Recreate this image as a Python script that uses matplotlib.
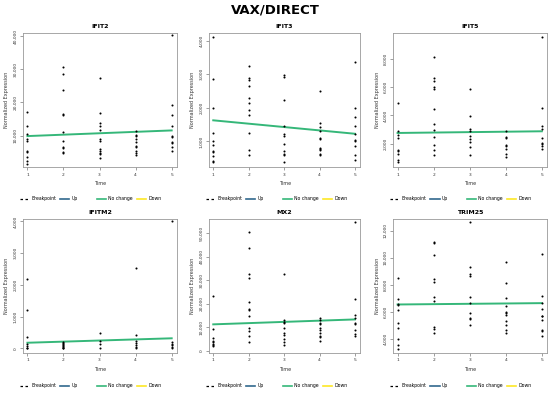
import matplotlib
matplotlib.use('Agg')
import matplotlib.pyplot as plt
from matplotlib.lines import Line2D
from matplotlib.ticker import FuncFormatter

# ── data ────────────────────────────────────────────────────────────────────
genes = ['IFIT2', 'IFIT3', 'IFIT5', 'IFITM2', 'MX2', 'TRIM25']
times = [1, 2, 3, 4, 5]

ifit2 = [
    [17100, 13000, 10500, 9000, 8500, 5500, 5200, 3700, 2300, 1600],
    [30800, 28500, 23700, 16400, 16100, 11000, 8500, 6700, 6200, 5000, 4700],
    [27500, 16900, 13800, 12800, 11600, 9000, 8500, 6000, 5500, 4900, 4500, 3200],
    [11300, 10100, 9800, 9000, 8000, 7000, 6700, 5500, 4900, 4200],
    [40300, 19100, 16300, 12800, 10000, 9600, 8000, 7700, 6500, 5400],
]
ifit3 = [
    [4110, 2850, 2000, 1260, 1010, 900, 715, 690, 555, 410, 390],
    [3250, 2900, 2820, 2640, 2290, 2150, 1950, 1780, 1260, 735, 595],
    [2970, 2920, 2230, 1450, 1230, 1160, 930, 715, 635, 585, 375],
    [2500, 1550, 1430, 1300, 1100, 1080, 800, 765, 735, 635, 585],
    [3370, 2010, 1730, 1460, 1230, 1030, 1000, 860, 585, 455],
]
ifit5 = [
    [4880, 2870, 2630, 2390, 1560, 1470, 1230, 850, 690],
    [8150, 6680, 6440, 6020, 5900, 4480, 3410, 2940, 2460, 1920, 1520, 1210],
    [5900, 3930, 3010, 2870, 2510, 2350, 2110, 1750, 1160],
    [2870, 2460, 2390, 1920, 1800, 1640, 1230, 1040],
    [9570, 4530, 3250, 3060, 2420, 2060, 1940, 1830, 1590],
]
ifitm2 = [
    [2200, 1195, 370, 140, 75, 30, 0],
    [210, 160, 130, 105, 75, 50, 30, 0],
    [475, 245, 125, 0],
    [2520, 420, 245, 160, 105, 50, 0],
    [4000, 190, 140, 95, 50, 0],
]
mx2 = [
    [23100, 9100, 5200, 4200, 3500, 2800, 2400, 1800],
    [50700, 44000, 32600, 31200, 20600, 17800, 17200, 14700, 9800, 8400, 6300, 3500],
    [32500, 13000, 12300, 11600, 9500, 7400, 6700, 4900, 3800, 2400],
    [14000, 12900, 11900, 11500, 9500, 8700, 7700, 6300, 5600, 3900],
    [55000, 22000, 15000, 14000, 11900, 11200, 8700, 7000, 6300],
]
trim25 = [
    [8520, 6960, 6580, 6480, 6110, 5120, 4800, 4000, 3500, 3250],
    [11200, 11100, 10200, 8420, 8220, 7060, 6760, 4840, 4740, 4420],
    [12670, 9320, 8770, 8650, 7110, 6610, 5860, 5490, 5420, 4990],
    [9660, 8120, 7030, 6410, 5990, 5860, 5740, 5300, 4990, 4620, 4420],
    [10260, 7160, 6610, 6160, 5710, 5660, 5340, 4670, 4540, 4220],
]
values = [ifit2, ifit3, ifit5, ifitm2, mx2, trim25]

# fitted "No change" trend: value at time 1 and time 5
trend_start = [9900, 1630, 2750, 180, 11200, 6530]
trend_end = [11600, 1230, 2870, 320, 13300, 6630]

yticks = [
    [10000, 20000, 30000, 40000],
    [1000, 2000, 3000, 4000],
    [2000, 4000, 6000, 8000],
    [0, 1000, 2000, 3000, 4000],
    [0, 10000, 20000, 30000, 40000, 50000],
    [4000, 6000, 8000, 10000, 12000],
]
ylims = [(600, 41000), (240, 4240), (330, 9880), (-140, 4090), (-1000, 56400), (2930, 12920)]

legend_left = ['Breakpoint', 'Up']
legend_right = ['No change', 'Down']
col_up = '#31688E'
col_nochange = '#35B779'
col_down = '#FDE725'

# ── layout (figure fractions) ───────────────────────────────────────────────
lefts = [0.042, 0.380, 0.715]
widths = [0.280, 0.275, 0.280]
bottoms = [0.575, 0.102]
height = 0.342
legend_y = [0.494, 0.018]

fig = plt.figure(figsize=(5.5, 3.93), dpi=100)
fig.patch.set_facecolor('white')
fig.text(0.5, 0.975, 'VAX/DIRECT', ha='center', va='center',
         fontsize=9.5, fontweight='bold')

fmt = FuncFormatter(lambda v, p: f'{int(v):,}')
leg_kw = dict(loc='center left', ncol=2, frameon=False, fontsize=3.3,
              handlelength=2.0, columnspacing=0.9, handletextpad=0.5,
              borderpad=0, borderaxespad=0)

for i, gene in enumerate(genes):
    row, col = divmod(i, 3)
    ax = fig.add_axes([lefts[col], bottoms[row], widths[col], height])

    for t, vals in zip(times, values[i]):
        ax.scatter([t] * len(vals), vals, s=2.2, color='black', lw=0, zorder=3)
    ax.plot([times[0], times[-1]], [trend_start[i], trend_end[i]],
            color=col_nochange, lw=1.4, zorder=2)

    ax.set_xlim(0.88, 5.15)
    ax.set_ylim(*ylims[i])
    ax.set_xticks(times)
    ax.set_yticks(yticks[i])
    ax.yaxis.set_major_formatter(fmt)
    ax.tick_params(axis='both', labelsize=3.2, length=2, width=0.4,
                   color='#555555', labelcolor='#333333', pad=2)
    for lab in ax.get_yticklabels():
        lab.set_rotation(90)
        lab.set_va('center')
    for sp in ax.spines.values():
        sp.set_color('#999999')
        sp.set_linewidth(0.6)
    ax.set_title(gene, fontsize=4.5, fontweight='bold', pad=3)
    ax.set_xlabel('Time', fontsize=3.5, color='#333333', labelpad=3)
    ax.set_ylabel('Normalized Expression', fontsize=3.5, color='#333333', labelpad=3)

    h_left = [Line2D([], [], color='black', lw=0.9, ls=(0, (2, 2))),
              Line2D([], [], color=col_up, lw=1.2)]
    h_right = [Line2D([], [], color=col_nochange, lw=1.2),
               Line2D([], [], color=col_down, lw=1.2)]
    leg1 = fig.legend(h_left, legend_left,
                      bbox_to_anchor=(lefts[col] - 0.006, legend_y[row]), **leg_kw)
    fig.legend(h_right, legend_right,
               bbox_to_anchor=(lefts[col] + 0.134, legend_y[row]), **leg_kw)

plt.savefig('out.png', dpi=100)
plt.close()
